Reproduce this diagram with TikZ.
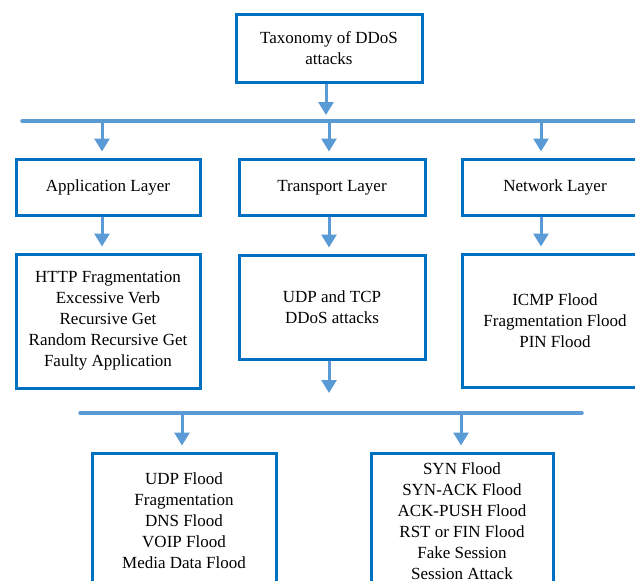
\documentclass[tikz,border=0pt]{standalone}
\usepackage{fontspec}
\setmainfont{Liberation Serif}
\newfontfamily\boxfont{Liberation Serif}
\usetikzlibrary{arrows.meta}
\definecolor{boxblue}{HTML}{0070C0}
\definecolor{linkblue}{HTML}{5B9BD5}
\tikzset{
  box/.style={draw=boxblue, line width=3pt, fill=white, inner sep=0pt,
    align=center, font=\boxfont\fontsize{17}{21}\selectfont},
  layer/.style={box, minimum height=56pt, text height=12pt, text depth=3.5pt},
  bus/.style={draw=linkblue, line width=3.5pt, line cap=round},
  arr/.style={draw=linkblue, line width=3pt,
    -{Triangle[width=15pt,length=13pt]}, shorten >=6pt},
}
\begin{document}
\begin{tikzpicture}[x=1pt,y=-1pt]
\useasboundingbox (0,0) rectangle (635,581);
\clip (0,0) rectangle (635,581);

% root
\node[box, minimum width=186pt, minimum height=68pt] (root) at (329,48)
  {Taxonomy of DDoS\\attacks};

% first bus
\coordinate (b1l) at (22,121);
\coordinate (b1r) at (660,121);
\draw[bus] (b1l) -- (b1r);

% layers
\node[layer, minimum width=184pt] (app) at (108,187) {Application Layer};
\node[layer, minimum width=186pt] (tra) at (332,187) {Transport Layer};
\node[layer, minimum width=186pt] (net) at (555,187) {Network Layer};

% attack lists
\node[box, minimum width=184pt, minimum height=134pt] (appl) at (108,321)
  {HTTP Fragmentation\\Excessive Verb\\Recursive Get\\Random Recursive Get\\Faulty Application};
\node[box, minimum width=186pt, minimum height=104pt] (tral) at (332,307)
  {UDP and TCP\\DDoS attacks};
\node[box, minimum width=186pt, minimum height=133pt] (netl) at (555,320.5)
  {ICMP Flood\\Fragmentation Flood\\PIN Flood};

% second bus
\coordinate (b2l) at (80,413);
\coordinate (b2r) at (582,413);
\draw[bus] (b2l) -- (b2r);

\node[box, minimum width=184pt, minimum height=136pt] (udp) at (184,521)
  {UDP Flood\\Fragmentation\\DNS Flood\\VOIP Flood\\Media Data Flood};
\node[box, minimum width=182pt, minimum height=136pt] (tcp) at (462,521)
  {SYN Flood\\SYN-ACK Flood\\ACK-PUSH Flood\\RST or FIN Flood\\Fake Session\\Session Attack};

% connectors
\draw[arr] ([xshift=-3pt]root.south) -- ([xshift=-3pt]root.south |- b1l);
\draw[arr] ([xshift=-6pt]app.north |- b1l) -- ([xshift=-6pt]app.north);
\draw[arr] ([xshift=-3pt]tra.north |- b1l) -- ([xshift=-3pt]tra.north);
\draw[arr] ([xshift=-14pt]net.north |- b1l) -- ([xshift=-14pt]net.north);
\draw[arr] ([xshift=-6pt]app.south) -- ([xshift=-6pt]appl.north);
\draw[arr] ([xshift=-3pt]tra.south) -- ([xshift=-3pt]tral.north);
\draw[arr] ([xshift=-14pt]net.south) -- ([xshift=-14pt]netl.north);
\draw[arr, shorten >=20pt] ([xshift=-3pt]tral.south) -- ([xshift=-3pt]tral.south |- b2l);
\draw[arr] ([xshift=-2pt]udp.north |- b2l) -- ([xshift=-2pt]udp.north);
\draw[arr] ([xshift=-1pt]tcp.north |- b2l) -- ([xshift=-1pt]tcp.north);
\end{tikzpicture}
\end{document}
